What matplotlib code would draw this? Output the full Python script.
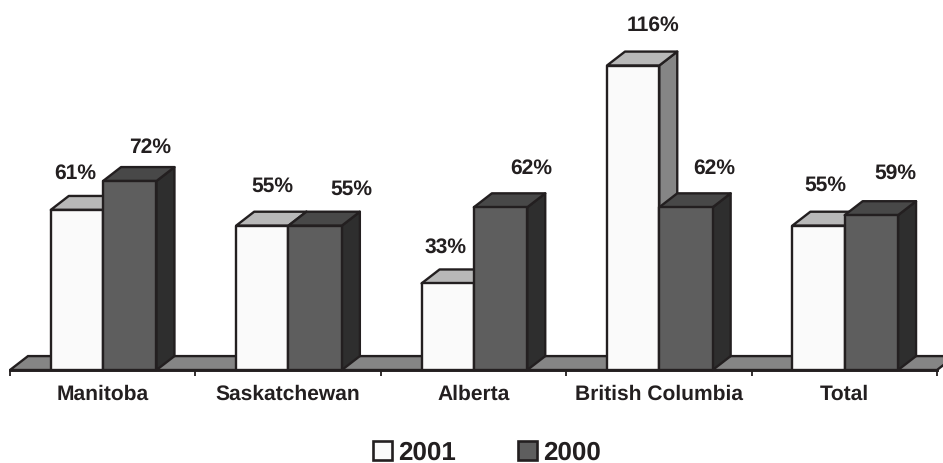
import matplotlib

matplotlib.use("Agg")
import matplotlib.pyplot as plt
from matplotlib.patches import Patch

plt.rcParams["font.family"] = ["Liberation Sans", "DejaVu Sans"]
plt.rcParams["font.weight"] = "bold"
plt.rcParams["text.hinting"] = "none"
plt.rcParams["text.hinting_factor"] = 1

regions = ["Manitoba", "Saskatchewan", "Alberta", "British Columbia", "Total"]
years = ["2001", "2000"]
values_2001 = [61, 55, 33, 116, 55]
values_2000 = [72, 55, 62, 62, 59]

INK = "#231f20"
LIGHT = {"front": "#fafafa", "top": "#b8b8b8", "side": "#858585"}
DARK = {"front": "#5e5e5e", "top": "#484848", "side": "#2e2e2e"}
FLOOR = "#858585"

BAR_W = 0.287
DX = 0.097  # oblique depth of the 3D boxes, x in category units
DY = 5.3    # same, y in percent
LW = 1.7

# label offsets from the bar's front-top centre, in pixels
offsets_2001 = [(-2, 38), (10, 40), (-3, 37), (19, 41), (6, 41)]
offsets_2000 = [(20, 35), (36, 37), (31, 40), (28, 40), (24, 43)]


def box(ax, x0, x1, h, colors):
    """Oblique 3D column: side and top first, front face over them."""
    kw = dict(edgecolor=INK, linewidth=LW, joinstyle="round", clip_on=False)
    ax.fill([x1, x1 + DX, x1 + DX, x1], [0, DY, h + DY, h], facecolor=colors["side"], **kw)
    ax.fill([x0, x0 + DX, x1 + DX, x1], [h, h + DY, h + DY, h], facecolor=colors["top"], **kw)
    ax.fill([x0, x1, x1, x0], [0, 0, h, h], facecolor=colors["front"], **kw)


fig = plt.figure(figsize=(9.43, 4.64), dpi=100)
ax = fig.add_axes([10 / 943, (464 - 371) / 464, 927 / 943, 371 / 464])
ax.set_xlim(0, len(regions))
ax.set_ylim(0, 371 / 2.625)

# floor strip behind the columns
n = len(regions)
ax.fill([0, DX, n + DX, n], [0, DY, DY, 0], facecolor=FLOOR, edgecolor=INK,
        linewidth=LW, clip_on=False)

for i, (a, b) in enumerate(zip(values_2001, values_2000)):
    left, mid, right = i + 0.22, i + 0.502, i + 0.79
    box(ax, left, mid, a, LIGHT)
    box(ax, mid, right, b, DARK)
    for x, v, off in ((left + BAR_W / 2, a, offsets_2001[i]), (mid + BAR_W / 2, b, offsets_2000[i])):
        ax.annotate(f"{v}%", (x, v), xytext=off, textcoords="offset pixels",
                    ha="center", va="center", fontsize=15, color=INK, annotation_clip=False)

for s in ("top", "left", "right"):
    ax.spines[s].set_visible(False)
ax.spines["bottom"].set_color(INK)
ax.spines["bottom"].set_linewidth(LW + 0.4)
ax.set_yticks([])
ax.set_xticks(range(n + 1))
ax.set_xticks([i + 0.5 for i in range(n)], labels=regions, minor=True)
ax.set_xticklabels([])
ax.tick_params(axis="x", which="major", length=4.5, width=1.3, color=INK)
ax.tick_params(axis="x", which="minor", length=0, pad=9.5, labelsize=15, labelcolor=INK)

handles = [
    Patch(facecolor=LIGHT["front"], edgecolor=INK, linewidth=LW + 0.2, label=years[0]),
    Patch(facecolor=DARK["front"], edgecolor=INK, linewidth=LW + 0.2, label=years[1]),
]
fig.legend(handles=handles, ncol=2, loc="center", bbox_to_anchor=(487 / 943, 10.5 / 464),
           frameon=False, fontsize=18.4, labelcolor=INK, handlelength=0.74, handleheight=0.74,
           handletextpad=0.23, columnspacing=2.46, borderpad=0, borderaxespad=0)

fig.savefig("out.png", dpi=100)
